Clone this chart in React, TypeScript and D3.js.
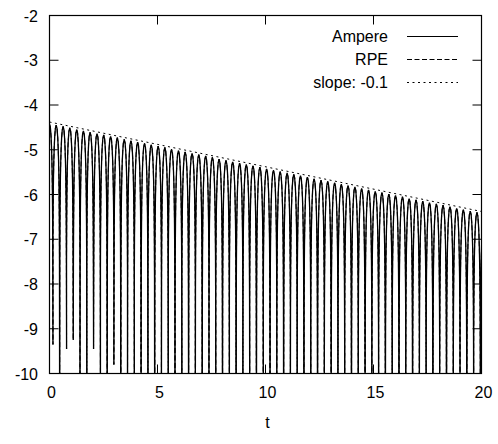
import React from "react";
import * as d3 from "d3";

// Peak times and peak values of the "Ampere" curve
const peakT = [0, 0.31, 0.63, 0.94, 1.26, 1.57, 1.88, 2.2, 2.51, 2.83, 3.14, 3.46, 3.77, 4.08, 4.4, 4.71, 5.03, 5.34, 5.65, 5.97, 6.28, 6.6, 6.91, 7.23, 7.54, 7.85, 8.17, 8.48, 8.8, 9.11, 9.42, 9.74, 10.05, 10.37, 10.68, 11.0, 11.31, 11.62, 11.94, 12.25, 12.57, 12.88, 13.2, 13.51, 13.82, 14.14, 14.45, 14.77, 15.08, 15.39, 15.71, 16.02, 16.34, 16.65, 16.97, 17.28, 17.59, 17.91, 18.22, 18.54, 18.85, 19.16, 19.48, 19.79, 20.11];
const peakY = [-4.42, -4.45, -4.48, -4.51, -4.55, -4.58, -4.61, -4.64, -4.67, -4.7, -4.73, -4.77, -4.8, -4.83, -4.86, -4.89, -4.92, -4.95, -4.99, -5.02, -5.05, -5.08, -5.11, -5.14, -5.17, -5.21, -5.24, -5.27, -5.3, -5.33, -5.36, -5.39, -5.43, -5.46, -5.49, -5.52, -5.55, -5.58, -5.61, -5.65, -5.68, -5.71, -5.74, -5.77, -5.8, -5.83, -5.87, -5.9, -5.93, -5.96, -5.99, -6.02, -6.05, -6.09, -6.12, -6.15, -6.18, -6.21, -6.24, -6.27, -6.31, -6.34, -6.37, -6.4, -6.43];
// Trough times and their lowest values (-12 = runs off the bottom of the plot)
const troughT = [0.16, 0.47, 0.79, 1.1, 1.41, 1.73, 2.04, 2.36, 2.67, 2.98, 3.3, 3.61, 3.93, 4.24, 4.56, 4.87, 5.18, 5.5, 5.81, 6.13, 6.44, 6.75, 7.07, 7.38, 7.7, 8.01, 8.33, 8.64, 8.95, 9.27, 9.58, 9.9, 10.21, 10.52, 10.84, 11.15, 11.47, 11.78, 12.1, 12.41, 12.72, 13.04, 13.35, 13.67, 13.98, 14.29, 14.61, 14.92, 15.24, 15.55, 15.87, 16.18, 16.49, 16.81, 17.12, 17.44, 17.75, 18.06, 18.38, 18.69, 19.01, 19.32, 19.64, 19.95];
const troughY = [-9.35, -12, -9.45, -9.25, -12, -12, -9.45, -12, -12, -9.8, -12, -12, -12, -12, -12, -12, -12, -12, -12, -12, -12, -12, -12, -12, -12, -12, -12, -12, -12, -12, -12, -12, -12, -12, -12, -12, -12, -12, -12, -12, -12, -12, -12, -12, -12, -12, -12, -12, -12, -12, -12, -12, -12, -12, -12, -12, -12, -12, -12, -12, -12, -12, -12, -12];
// Shape of one arch around its peak (offset in t, drop in value)
const archDt = [0.04, 0.07, 0.09, 0.11, 0.125, 0.135, 0.145, 0.152];
const archDy = [-0.08, -0.27, -0.48, -0.79, -1.15, -1.52, -2.12, -2.98];
// Slope line end points
const slopeT = [0, 20];
const slopeY = [-4.38, -6.38];

const xTicks = [0, 5, 10, 15, 20];
const yTicks = [-10, -9, -8, -7, -6, -5, -4, -3, -2];
const legendLabels = ["Ampere", "RPE", "slope: -0.1"];
const legendDash = ["none", "5,2.5", "2,3.5"];

const W = 498;
const H = 444;
const FONT = "'Liberation Sans', Arial, Helvetica, sans-serif";

export default function App() {
  const x = d3.scaleLinear().domain([0, 20]).range([49.5, 481.5]);
  const y = d3.scaleLinear().domain([-10, -2]).range([373.5, 15.5]);

  const pts: [number, number][] = [];
  peakT.forEach((t, k) => {
    for (let i = archDt.length - 1; i >= 0; i--) pts.push([t - archDt[i], peakY[k] + archDy[i]]);
    pts.push([t, peakY[k]]);
    archDt.forEach((dt, i) => pts.push([t + dt, peakY[k] + archDy[i]]));
    if (k < troughT.length) pts.push([troughT[k], troughY[k]]);
  });

  const line = d3
    .line<[number, number]>()
    .x((d) => x(d[0]))
    .y((d) => y(d[1]));
  const curvePath = line(pts) || "";
  const slopePath = line(slopeT.map((t, i) => [t, slopeY[i]] as [number, number])) || "";

  const [x0, x1] = x.range();
  const [yb, yt] = y.range();
  const tick = 9;

  return (
    <svg width={W} height={H} style={{ position: "absolute", left: 0, top: 0, background: "#fff" }} fontFamily={FONT} fontSize={16}>
      <defs>
        <clipPath id="plotClip">
          <rect x={x0} y={yt} width={x1 - x0} height={yb - yt} />
        </clipPath>
      </defs>
      <rect x={0} y={0} width={W} height={H} fill="#fff" />
      <g clipPath="url(#plotClip)" fill="none" stroke="#000">
        <path d={curvePath} strokeWidth={1.3} />
        <path d={curvePath} strokeWidth={1} strokeDasharray={legendDash[1]} />
        <path d={slopePath} strokeWidth={1} strokeDasharray={legendDash[2]} />
      </g>
      {/* frame */}
      <rect x={x0} y={yt} width={x1 - x0} height={yb - yt} fill="none" stroke="#000" strokeWidth={1.2} />
      {/* y ticks */}
      {yTicks.map((v) => (
        <g key={"y" + v}>
          <line x1={x0} x2={x0 + tick} y1={y(v)} y2={y(v)} stroke="#000" />
          <line x1={x1} x2={x1 - tick} y1={y(v)} y2={y(v)} stroke="#000" />
          <text x={38} y={y(v) + 6} textAnchor="end" fill="#000">
            {v}
          </text>
        </g>
      ))}
      {/* x ticks */}
      {xTicks.map((v) => (
        <g key={"x" + v}>
          <line x1={x(v)} x2={x(v)} y1={yb} y2={yb - tick} stroke="#000" />
          <line x1={x(v)} x2={x(v)} y1={yt} y2={yt + tick} stroke="#000" />
          <text x={x(v) + 2} y={398} textAnchor="middle" fill="#000">
            {v}
          </text>
        </g>
      ))}
      <text x={(x0 + x1) / 2 + 2} y={428} textAnchor="middle" fill="#000">
        t
      </text>
      {/* legend */}
      {legendLabels.map((lab, i) => {
        const ly = 36.5 + i * 23;
        return (
          <g key={lab}>
            <text x={388} y={ly + 5.5} textAnchor="end" fill="#000">
              {lab}
            </text>
            <line x1={407} x2={458} y1={ly} y2={ly} stroke="#000" strokeWidth={1} strokeDasharray={legendDash[i]} />
          </g>
        );
      })}
    </svg>
  );
}
